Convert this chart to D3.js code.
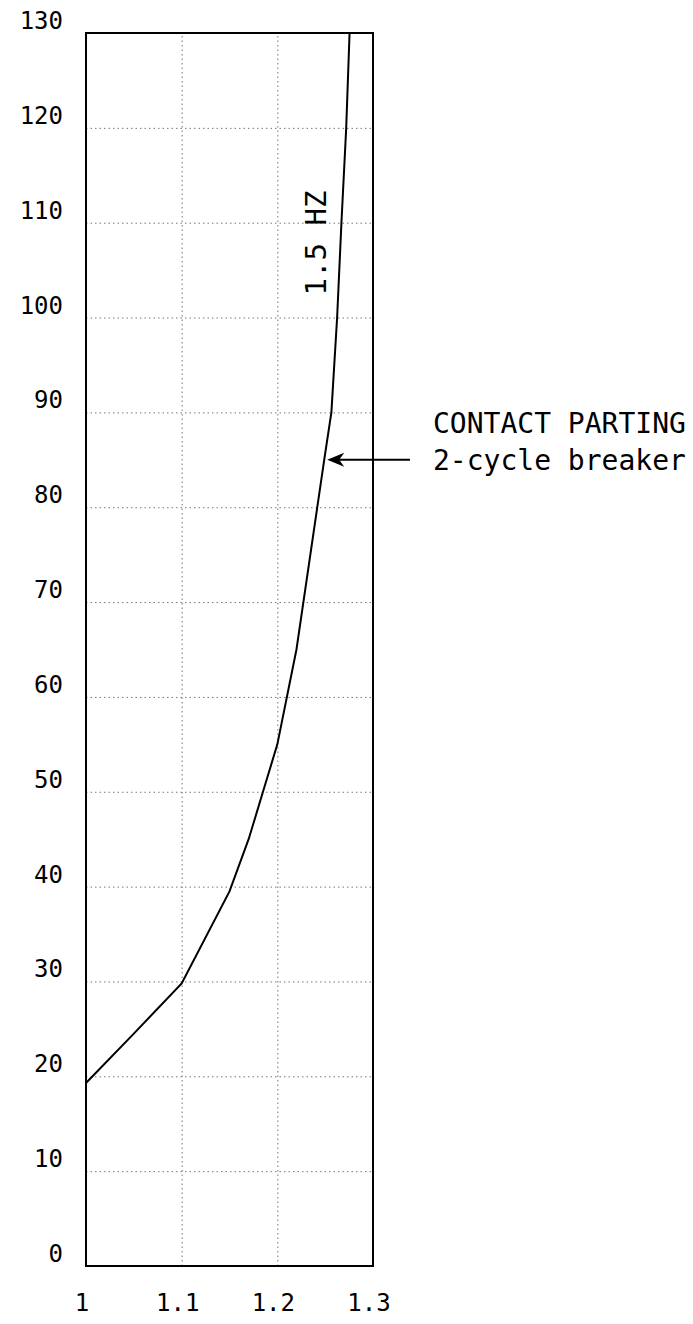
<!DOCTYPE html>
<html>
<head>
<meta charset="utf-8">
<script src="https://cdn.jsdelivr.net/npm/d3@7"></script>
<style>
  body { margin: 0; background: #fff; }
  text { font-family: "DejaVu Sans Mono", monospace; fill: #000; }
  .grid line { stroke: #777; stroke-width: 1; stroke-dasharray: 1.5,3; }
  .grid path { display: none; }
</style>
</head>
<body>
<div id="chart"></div>
<script>
// curve (ratio vs. value)
var ratio  = [1.0, 1.05, 1.1, 1.15, 1.17, 1.185, 1.2, 1.22, 1.249, 1.2565, 1.2625, 1.267, 1.272, 1.2755];
var value  = [19.3, 24.5, 29.8, 39.5, 45, 50, 55, 65, 85, 90, 100, 110, 120, 130];
var xTicks = [1, 1.1, 1.2, 1.3];
var yTicks = [0, 10, 20, 30, 40, 50, 60, 70, 80, 90, 100, 110, 120, 130];
var curveLabel = "1.5 HZ";
var noteLines = ["CONTACT PARTING", "2-cycle breaker"];
var notePoint = [1.249, 85];

var W = 693, H = 1324;
var svg = d3.select("#chart").append("svg")
    .attr("width", W)
    .attr("height", H);

var x = d3.scaleLinear().domain([1, 1.3]).range([86, 373]);
var y = d3.scaleLinear().domain([0, 130]).range([1266, 33]);

// gridlines
svg.append("g")
    .attr("class", "grid")
    .attr("transform", "translate(0," + y(0) + ")")
    .call(d3.axisBottom(x).tickValues([1.1, 1.2]).tickSize(-(y(0) - y(130))).tickFormat(""));
svg.append("g")
    .attr("class", "grid")
    .attr("transform", "translate(" + x(1) + ",0)")
    .call(d3.axisLeft(y).tickValues(yTicks.slice(1, -1)).tickSize(-(x(1.3) - x(1))).tickFormat(""));

// frame
svg.append("rect")
    .attr("x", x(1)).attr("y", y(130))
    .attr("width", x(1.3) - x(1)).attr("height", y(0) - y(130))
    .attr("fill", "none").attr("stroke", "#000").attr("stroke-width", 2);

// tick labels
svg.selectAll(".ylab").data(yTicks).enter().append("text")
    .attr("class", "ylab")
    .attr("x", 63)
    .attr("y", function(d) { return y(d) - 4; })
    .attr("text-anchor", "end")
    .style("font-size", "24px")
    .text(function(d) { return d; });

svg.selectAll(".xlab").data(xTicks).enter().append("text")
    .attr("class", "xlab")
    .attr("x", function(d) { return x(d) - 4; })
    .attr("y", y(0) + 45)
    .attr("text-anchor", "middle")
    .style("font-size", "24px")
    .text(function(d) { return d; });

// curve
var pts = ratio.map(function(r, i) { return [r, value[i]]; });
var line = d3.line()
    .x(function(d) { return x(d[0]); })
    .y(function(d) { return y(d[1]); });
svg.append("path")
    .datum(pts)
    .attr("d", line)
    .attr("fill", "none")
    .attr("stroke", "#000")
    .attr("stroke-width", 2);

// rotated curve label
svg.append("text")
    .attr("transform", "translate(326," + 243 + ") rotate(-90)")
    .attr("text-anchor", "middle")
    .style("font-size", "29px")
    .text(curveLabel);

// arrow + note
var ax = x(notePoint[0]) + 3, ay = y(notePoint[1]);
svg.append("line")
    .attr("x1", 410).attr("y1", ay)
    .attr("x2", ax + 4).attr("y2", ay)
    .attr("stroke", "#000").attr("stroke-width", 2);
svg.append("path")
    .attr("d", "M" + ax + "," + ay + " L" + (ax + 17) + "," + (ay - 7) + " L" + (ax + 12) + "," + ay + " L" + (ax + 17) + "," + (ay + 7) + " Z")
    .attr("fill", "#000");

svg.selectAll(".note").data(noteLines).enter().append("text")
    .attr("class", "note")
    .attr("x", 433)
    .attr("y", function(d, i) { return ay - 27 + i * 37; })
    .style("font-size", "28px")
    .text(function(d) { return d; });
</script>
</body>
</html>
